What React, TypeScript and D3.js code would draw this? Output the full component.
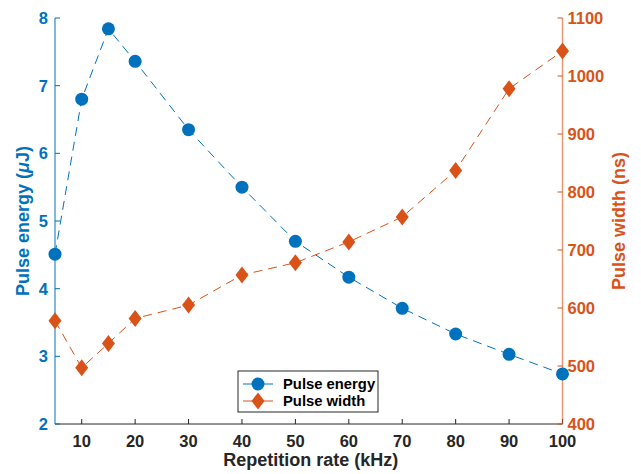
import React from "react";
import * as d3 from "d3";

const rates = [5, 10, 15, 20, 30, 40, 50, 60, 70, 80, 90, 100];
const pulseEnergy = [4.51, 6.8, 7.84, 7.36, 6.35, 5.5, 4.7, 4.17, 3.71, 3.33, 3.03, 2.74];
const pulseWidth = [578, 497, 539, 582, 605, 657, 678, 714, 757, 837, 978, 1043];
const xTicks = [10, 20, 30, 40, 50, 60, 70, 80, 90, 100];
const yLeftTicks = [2, 3, 4, 5, 6, 7, 8];
const yRightTicks = [400, 500, 600, 700, 800, 900, 1000, 1100];

const BLUE = "#0072BD";
const ORANGE = "#D95319";
const FONT = "'Liberation Sans', Arial, Helvetica, sans-serif";

export default function App() {
  const W = 641, H = 474;
  const left = 55, right = 562.5, top = 18, bottom = 424;
  const x = d3.scaleLinear().domain([5, 100]).range([left, right]);
  const yL = d3.scaleLinear().domain([2, 8]).range([bottom, top]);
  const yR = d3.scaleLinear().domain([400, 1100]).range([bottom, top]);
  const lineL = d3.line<number>().x((_, i) => x(rates[i])).y((d) => yL(d));
  const lineR = d3.line<number>().x((_, i) => x(rates[i])).y((d) => yR(d));
  const diamond = (cx: number, cy: number, r = 8.5, w = 6.5) =>
    `M${cx},${cy - r}L${cx + w},${cy}L${cx},${cy + r}L${cx - w},${cy}Z`;
  const tickLen = 5;
  const lx = 238, ly = 371;
  const tfs = 16.5;
  return (
    <svg width={W} height={H} style={{ position: "absolute", left: 0, top: 0 }} fontFamily={FONT}>
      <rect width={W} height={H} fill="#fff" />
      {/* bottom axis */}
      <line x1={left} x2={right} y1={bottom} y2={bottom} stroke="#262626" strokeWidth={1} />
      {xTicks.map((t) => (
        <g key={t}>
          <line x1={x(t)} x2={x(t)} y1={bottom} y2={bottom - tickLen} stroke="#262626" />
          <text x={x(t)} y={bottom + 23} textAnchor="middle" fontSize={tfs} fontWeight="bold" fill="#262626">{t}</text>
        </g>
      ))}
      <text x={(left + right) / 2 + 2} y={466} textAnchor="middle" fontSize={18} fontWeight="bold" fill="#262626">Repetition rate (kHz)</text>
      {/* left axis */}
      <line x1={left} x2={left} y1={top} y2={bottom} stroke={BLUE} strokeWidth={1} />
      {yLeftTicks.map((t) => (
        <g key={t}>
          <line x1={left} x2={left + tickLen} y1={yL(t)} y2={yL(t)} stroke={BLUE} />
          <text x={left - 7} y={yL(t) + 6} textAnchor="end" fontSize={tfs} fontWeight="bold" fill={BLUE}>{t}</text>
        </g>
      ))}
      <text transform={`translate(29,${(top + bottom) / 2}) rotate(-90)`} textAnchor="middle" fontSize={18} fontWeight="bold" fill={BLUE}>
        Pulse energy (<tspan fontStyle="italic">μ</tspan>J)
      </text>
      {/* right axis */}
      <line x1={right} x2={right} y1={top} y2={bottom} stroke={ORANGE} strokeOpacity={0.6} strokeWidth={1.5} />
      {yRightTicks.map((t) => (
        <g key={t}>
          <line x1={right} x2={right - tickLen} y1={yR(t)} y2={yR(t)} stroke={ORANGE} />
          <text x={right + 5} y={yR(t) + 6} textAnchor="start" fontSize={tfs} fontWeight="bold" fill={ORANGE}>{t}</text>
        </g>
      ))}
      <text transform={`translate(625,${(top + bottom) / 2}) rotate(-90)`} textAnchor="middle" fontSize={18} fontWeight="bold" fill={ORANGE}>
        Pulse width (ns)
      </text>
      {/* series */}
      <path d={lineL(pulseEnergy) || ""} fill="none" stroke={BLUE} strokeWidth={1} strokeDasharray="9,6" />
      {pulseEnergy.map((v, i) => (
        <circle key={i} cx={x(rates[i])} cy={yL(v)} r={6.5} fill={BLUE} />
      ))}
      <path d={lineR(pulseWidth) || ""} fill="none" stroke={ORANGE} strokeWidth={1} strokeDasharray="9,6" />
      {pulseWidth.map((v, i) => (
        <path key={i} d={diamond(x(rates[i]), yR(v))} fill={ORANGE} />
      ))}
      {/* legend */}
      <rect x={lx} y={ly} width={140} height={41} fill="#fff" stroke="#262626" strokeWidth={1} />
      <line x1={lx + 5} x2={lx + 35} y1={ly + 13} y2={ly + 13} stroke={BLUE} />
      <circle cx={lx + 20} cy={ly + 13} r={6.5} fill={BLUE} />
      <text x={lx + 45} y={ly + 18} fontSize={14.8} fontWeight="bold" fill="#000">Pulse energy</text>
      <line x1={lx + 5} x2={lx + 35} y1={ly + 30} y2={ly + 30} stroke={ORANGE} />
      <path d={diamond(lx + 20, ly + 30)} fill={ORANGE} />
      <text x={lx + 45} y={ly + 35} fontSize={14.8} fontWeight="bold" fill="#000">Pulse width</text>
    </svg>
  );
}
